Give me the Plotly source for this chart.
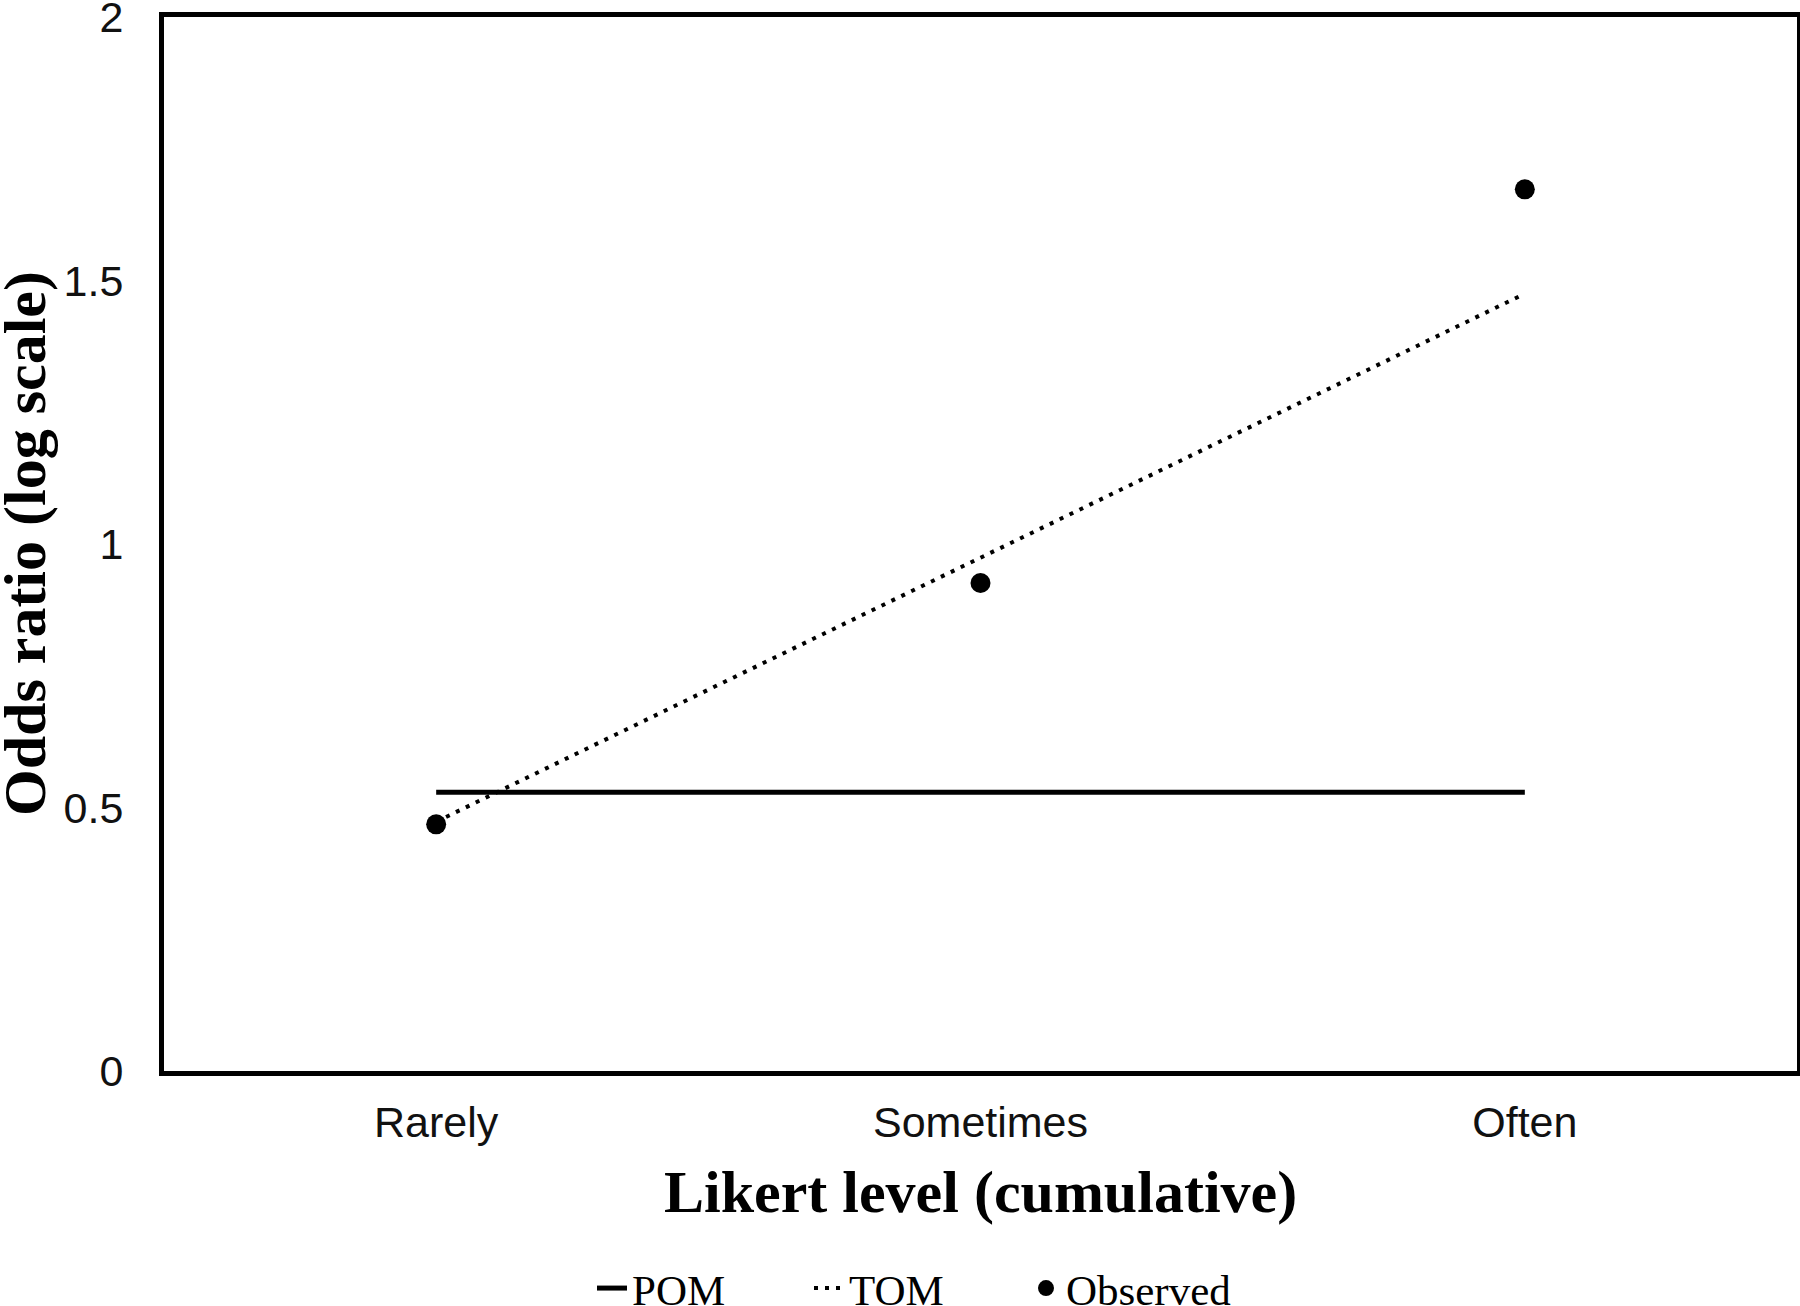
import plotly.graph_objects as go

categories = ["Rarely", "Sometimes", "Often"]
pom_values = [0.529, 0.529, 0.529]
tom_values = [0.473, 0.974, 1.475]
observed_values = [0.468, 0.926, 1.673]
y_tick_values = [0, 0.5, 1, 1.5, 2]
y_tick_labels = ["0", "0.5", "1", "1.5", "2"]

W, H = 1800, 1306
L, R, T, B = 164, 3, 17, 235
PW, PH = W - L - R, H - T - B

fig = go.Figure()
fig.add_trace(go.Scatter(
    x=categories, y=pom_values, name="POM", mode="lines",
    line=dict(color="black", width=5),
))
fig.add_trace(go.Scatter(
    x=categories, y=tom_values, name="TOM", mode="lines",
    line=dict(color="black", width=4, dash="4px,7px"),
))
fig.add_trace(go.Scatter(
    x=categories, y=observed_values, name="Observed", mode="markers",
    marker=dict(color="black", size=20),
))

fig.update_layout(
    width=W, height=H,
    margin=dict(l=L, r=R, t=T, b=B, autoexpand=False),
    paper_bgcolor="white", plot_bgcolor="white",
    showlegend=True,
    legend=dict(
        orientation="h", x=(592 - L) / PW, xanchor="left", y=-0.206, yanchor="middle",
        font=dict(family="Liberation Serif", size=43, color="black"),
        entrywidth=172, entrywidthmode="pixels",
        tracegroupgap=0, bgcolor="rgba(0,0,0,0)",
    ),
    xaxis=dict(
        type="category", range=[-0.5, 2.5],
        showgrid=False, zeroline=False, ticks="",
        showline=True, linecolor="black", linewidth=5, mirror=True,
        tickfont=dict(family="Liberation Sans", size=43, color="#111"),
        ticklabelstandoff=9,
    ),
    yaxis=dict(
        range=[0, 2], tickvals=y_tick_values, ticktext=y_tick_labels,
        showgrid=False, zeroline=False, ticks="",
        showline=True, linecolor="black", linewidth=5, mirror=True,
        tickfont=dict(family="Liberation Sans", size=43, color="#111"),
        ticklabelstandoff=27, ticklabeloverflow="allow",
    ),
    annotations=[
        dict(text="<b>Likert level (cumulative)</b>", xref="paper", yref="paper",
             x=0.5, y=(1071 - 1192) / PH, xanchor="center", yanchor="middle",
             showarrow=False, font=dict(family="Liberation Serif", size=60, color="black")),
        dict(text="<b>Odds ratio (log scale)</b>", xref="paper", yref="paper",
             x=(25 - L) / PW, y=0.5, xanchor="center", yanchor="middle",
             textangle=-90, showarrow=False,
             font=dict(family="Liberation Serif", size=60, color="black")),
    ],
)

fig.write_html("out.html", config={"displayModeBar": False},
               post_script="document.body.style.margin='0';")
